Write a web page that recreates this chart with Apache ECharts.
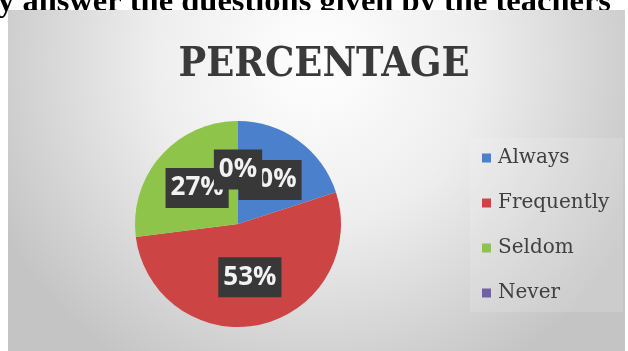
<!DOCTYPE html>
<html>
<head>
<meta charset="utf-8">
<script src="https://cdn.jsdelivr.net/npm/echarts@6/dist/echarts.min.js"></script>
<style>html,body{margin:0;padding:0;background:#fff;}#c{width:628px;height:351px;}</style>
</head>
<body>
<div id="c"></div>
<script>
var categories = ['Always', 'Frequently', 'Seldom', 'Never'];
var values = [20, 53, 27, 0];
var colors = ['#4a80cc', '#cc4444', '#8fc44a', '#7060a8'];
var chartTitle = 'PERCENTAGE';
var headerText = 'y answer the questions given by the teachers';

var chart = echarts.init(document.getElementById('c'));
chart.setOption({
  animation: false,
  color: colors,
  title: {
    text: chartTitle,
    left: 319,
    top: 40,
    textAlign: 'center',
    textStyle: {
      fontFamily: '"DejaVu Serif Condensed", "DejaVu Serif", serif',
      fontWeight: 'bold',
      fontSize: 41,
      color: '#3a3a3a'
    }
  },
  graphic: [
    {
      type: 'text', z: 0, zlevel: 0,
      style: {
        text: headerText, x: -2, y: 3,
        font: 'bold 32.5px "Liberation Serif", serif',
        fill: '#000', verticalAlign: 'middle', align: 'left'
      }
    },
    {
      type: 'rect', z: 1, silent: true,
      shape: { x: 8, y: 10, width: 617, height: 341 },
      style: {
        fill: {
          type: 'radial', x: 0.5, y: 0.15, r: 1.05,
          colorStops: [
            { offset: 0, color: '#ffffff' },
            { offset: 0.45, color: '#eeeeee' },
            { offset: 1, color: '#c4c4c4' }
          ]
        }
      }
    },
    {
      type: 'rect', z: 2, silent: true,
      shape: { x: 470, y: 138, width: 153, height: 174 },
      style: { fill: 'rgba(255,255,255,0.14)' }
    }
  ],
  legend: {
    orient: 'vertical',
    left: 482,
    top: 148,
    padding: 0,
    itemWidth: 9,
    itemHeight: 9,
    itemGap: 25,
    icon: 'rect',
    data: categories,
    textStyle: {
      fontFamily: '"DejaVu Serif", serif',
      fontSize: 20,
      lineHeight: 20,
      color: '#404040',
      padding: [0, 0, 0, 2]
    }
  },
  series: [{
    type: 'pie',
    center: [238, 224],
    radius: [0, 103],
    startAngle: 90,
    clockwise: true,
    avoidLabelOverlap: false,
    labelLayout: { hideOverlap: false },
    z: 5,
    label: {
      show: true,
      position: 'inside',
      formatter: '{c}%',
      fontFamily: '"Open Sans", sans-serif',
      fontWeight: 'bold',
      fontSize: 26,
      lineHeight: 29,
      color: '#f2f2f2',
      backgroundColor: '#383838',
      padding: [6, 5, 5, 5]
    },
    labelLine: { show: false },
    data: categories.map(function (n, i) { return { name: n, value: values[i] }; })
  }]
});
</script>
</body>
</html>
